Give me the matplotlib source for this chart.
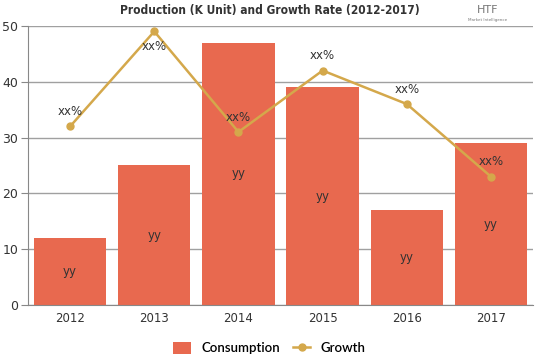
import matplotlib.pyplot as plt

years = ['2012', '2013', '2014', '2015', '2016', '2017']
consumption = [12, 25, 47, 39, 17, 29]
growth = [32, 49, 31, 42, 36, 23]
bar_labels = ['yy'] * 6
growth_labels = ['xx%'] * 6

bar_color = '#E8694F'
line_color = '#D4A84B'

fig = plt.figure(figsize=(5.39, 3.59), dpi=100)
ax = fig.add_axes([0.052, 0.150, 0.937, 0.778])

x = range(len(years))
bars = ax.bar(x, consumption, width=0.86, color=bar_color, zorder=2, label='Consumption')
line, = ax.plot(x, growth, color=line_color, lw=1.8, marker='o', ms=5, zorder=3, label='Growth')

for i, v in enumerate(consumption):
    ax.text(i, v / 2, bar_labels[i], ha='center', va='center', fontsize=8.5, color='#333333', zorder=4)
for i, v in enumerate(growth):
    if v > 46:
        ax.text(i, v - 1.5, growth_labels[i], ha='center', va='top', fontsize=8.5, color='#333333', zorder=4)
    else:
        ax.text(i, v + 1.5, growth_labels[i], ha='center', va='bottom', fontsize=8.5, color='#333333', zorder=4)

ax.set_xlim(-0.5, 5.5)
ax.set_ylim(0, 50)
ax.set_yticks([0, 10, 20, 30, 40, 50])
ax.set_xticks(list(x))
ax.set_xticklabels(years)
ax.yaxis.grid(True, color='#a0a0a0', lw=1, zorder=0)
ax.set_axisbelow(True)
for s in ['top', 'right']:
    ax.spines[s].set_visible(False)
for s in ['left', 'bottom']:
    ax.spines[s].set_color('#888888')
ax.tick_params(axis='y', length=5, color='#888888', labelsize=9, labelcolor='#333333', pad=2)
ax.tick_params(axis='x', length=0, labelsize=8.5, labelcolor='#333333', pad=5)

fig.text(0.50, 0.972, 'Production (K Unit) and Growth Rate (2012-2017)', ha='center', va='center',
         fontsize=8.6, fontweight='heavy', family='DejaVu Sans', fontstretch='condensed', color='#333333')
fig.text(0.905, 0.972, 'HTF', ha='center', va='center', fontsize=8, color='#777777')
fig.text(0.905, 0.945, 'Market Intelligence', ha='center', va='center', fontsize=3, color='#777777')

fig.legend([bars, line], ['Consumption', 'Growth'], loc='lower center', bbox_to_anchor=(0.5, -0.02),
           ncol=2, frameon=False, prop={'family': 'Lato', 'size': 9.5, 'weight': 'semibold'},
           handlelength=1.3, handleheight=1.0, columnspacing=1.0)

fig.savefig('out.png', dpi=100)
